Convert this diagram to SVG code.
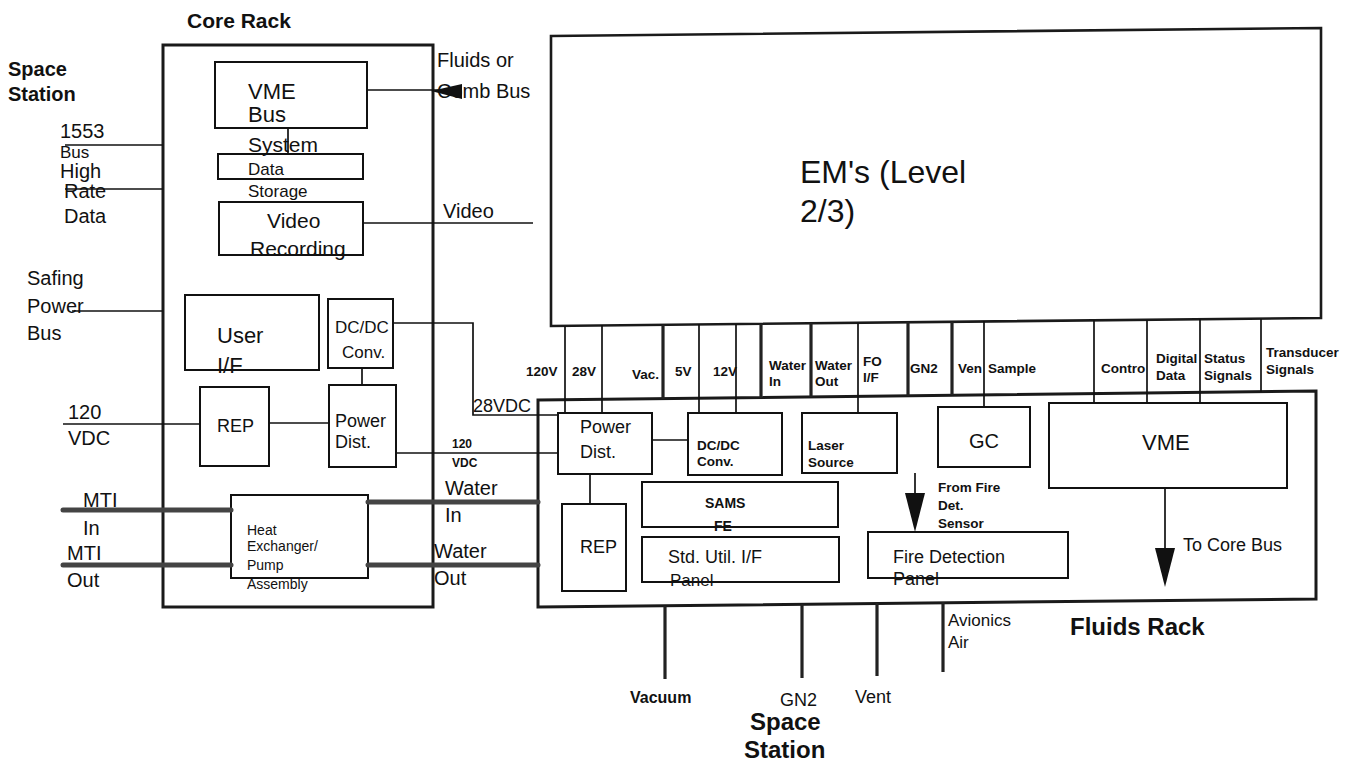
<svg xmlns="http://www.w3.org/2000/svg" width="1349" height="767" viewBox="0 0 1349 767">
<style>
text{font-family:"Liberation Sans",Arial,Helvetica,sans-serif;fill:#111}
.b{font-weight:bold}
.box{fill:none;stroke:#111;stroke-width:2}
.rack{fill:none;stroke:#1a1a1a;stroke-width:3}
.ln{fill:none;stroke:#111;stroke-width:1.7}
.thk{fill:none;stroke:#222;stroke-width:3.2}
.pipe{fill:none;stroke:#444;stroke-width:5;stroke-linecap:round}
.ah{fill:#111;stroke:none}
.f13{font-size:13.5px}.f14{font-size:14px}.f17{font-size:17px}.f18{font-size:18px}.f20{font-size:20px}.f21{font-size:21px}.f22{font-size:22px}
</style>
<rect x="0" y="0" width="1349" height="767" fill="#fff"/>

<g id="labels-outer">
<text class="b f21" x="187" y="28">Core Rack</text>
<text class="b f20" x="8" y="76">Space</text>
<text class="b f20" x="8" y="101">Station</text>
<text class="f20" x="60" y="138">1553</text>
<text class="f17" x="60" y="158">Bus</text>
<text class="f20" x="60" y="178">High</text>
<text class="f20" x="64" y="198">Rate</text>
<text class="f20" x="64" y="223">Data</text>
<text class="f20" x="27" y="285">Safing</text>
<text class="f20" x="27" y="313">Power</text>
<text class="f20" x="27" y="340">Bus</text>
<text class="f20" x="68" y="419">120</text>
<text class="f20" x="68" y="445">VDC</text>
<text class="f20" x="83" y="507">MTI</text>
<text class="f20" x="83" y="535">In</text>
<text class="f20" x="67" y="560">MTI</text>
<text class="f20" x="67" y="587">Out</text>
<text class="f20" x="437" y="67">Fluids or</text>
<text class="f20" x="437" y="98">Comb Bus</text>
<text class="f20" x="443" y="218">Video</text>
<text class="f18" x="473" y="412">28VDC</text>
<text class="b" font-size="12" x="452" y="448">120</text>
<text class="b" font-size="12" x="452" y="467">VDC</text>
<text class="f20" x="445" y="495">Water</text>
<text class="f20" x="445" y="522">In</text>
<text class="f20" x="434" y="558">Water</text>
<text class="f20" x="434" y="585">Out</text>
<text class="b f13" x="526" y="376">120V</text>
<text class="b f13" x="572" y="376">28V</text>
<text class="b f13" x="632" y="379">Vac.</text>
<text class="b f13" x="675" y="376">5V</text>
<text class="b f13" x="713" y="376">12V</text>
<text class="b f13" x="769" y="370">Water</text>
<text class="b f13" x="769" y="386">In</text>
<text class="b f13" x="815" y="370">Water</text>
<text class="b f13" x="815" y="386">Out</text>
<text class="b f13" x="863" y="366">FO</text>
<text class="b f13" x="863" y="382">I/F</text>
<text class="b f13" x="910" y="373">GN2</text>
<text class="b f13" x="958" y="373">Ven</text>
<text class="b f13" x="988" y="373">Sample</text>
<text class="b f13" x="1101" y="373">Contro</text>
<text class="b f13" x="1156" y="363">Digital</text>
<text class="b f13" x="1156" y="380">Data</text>
<text class="b f13" x="1204" y="363">Status</text>
<text class="b f13" x="1204" y="380">Signals</text>
<text class="b f13" x="1266" y="357">Transducer</text>
<text class="b f13" x="1266" y="374">Signals</text>
<text class="b f13" x="938" y="492">From Fire</text>
<text class="b f13" x="938" y="510">Det.</text>
<text class="b f13" x="938" y="528">Sensor</text>
<text class="f18" x="1183" y="551">To Core Bus</text>
<text class="f17" x="948" y="626">Avionics</text>
<text class="f17" x="948" y="648">Air</text>
<text class="b" font-size="24" x="1070" y="635">Fluids Rack</text>
<text class="b" font-size="16" x="630" y="703">Vacuum</text>
<text class="f18" x="780" y="706">GN2</text>
<text class="f18" x="855" y="703">Vent</text>
<text class="b" font-size="24" x="750" y="730">Space</text>
<text class="b" font-size="24" x="744" y="758">Station</text>
</g>

<g id="core-rack"><rect class="rack" x="163" y="45" width="270" height="562"/></g>
<g id="fluids-rack"><polygon class="rack" points="538,400 1316,391 1316,599 538,607"/></g>
<g id="ems"><polygon class="rack" style="stroke-width:2.6" points="551,36 1321,28 1321,318 551,326"/>
<text font-size="32" x="800" y="183">EM's (Level</text>
<text font-size="32" x="800" y="222">2/3)</text></g>

<g id="vme-bus"><rect class="box" x="215" y="62" width="152" height="66"/>
<text class="f22" x="248" y="99">VME</text><text class="f22" x="248" y="122">Bus</text></g>
<g id="system-data-storage"><rect class="box" x="218" y="154" width="145" height="25"/>
<text class="f21" x="248" y="152">System</text>
<text class="f17" x="248" y="175">Data</text><text class="f17" x="248" y="197">Storage</text></g>
<g id="video-recording"><rect class="box" x="219" y="202" width="144" height="53"/>
<text class="f21" x="267" y="228">Video</text><text class="f21" x="250" y="256">Recording</text></g>
<g id="user-if"><rect class="box" x="185" y="295" width="134" height="75"/>
<text class="f22" x="217" y="343">User</text><text class="f22" x="217" y="373">I/F</text></g>
<g id="core-dcdc"><rect class="box" x="328" y="299" width="65" height="69"/>
<text class="f17" x="335" y="333">DC/DC</text><text class="f17" x="342" y="358">Conv.</text></g>
<g id="core-power-dist"><rect class="box" x="329" y="385" width="67" height="82"/>
<text class="f18" x="335" y="427">Power</text><text class="f18" x="335" y="448">Dist.</text></g>
<g id="core-rep"><rect class="box" x="200" y="387" width="69" height="79"/>
<text class="f18" x="217" y="432">REP</text></g>
<g id="heat-exchanger"><rect class="box" x="231" y="495" width="137" height="83"/>
<text class="f14" x="247" y="535">Heat</text><text class="f14" x="247" y="551">Exchanger/</text>
<text class="f14" x="247" y="570">Pump</text><text class="f14" x="247" y="589">Assembly</text></g>

<g id="fluids-power-dist"><rect class="box" x="558" y="413" width="94" height="61"/>
<text class="f18" x="580" y="433">Power</text><text class="f18" x="580" y="458">Dist.</text></g>
<g id="fluids-dcdc"><rect class="box" x="688" y="413" width="94" height="62"/>
<text class="b f13" x="697" y="450">DC/DC</text><text class="b f13" x="697" y="466">Conv.</text></g>
<g id="laser-source"><rect class="box" x="802" y="413" width="95" height="60"/>
<text class="b f13" x="808" y="450">Laser</text><text class="b f13" x="808" y="467">Source</text></g>
<g id="gc"><rect class="box" x="938" y="407" width="92" height="60"/>
<text class="f20" x="969" y="448">GC</text></g>
<g id="fluids-vme"><rect class="box" x="1049" y="403" width="238" height="85"/>
<text class="f22" x="1142" y="450">VME</text></g>
<g id="fluids-rep"><rect class="box" x="562" y="504" width="64" height="87"/>
<text class="f18" x="580" y="553">REP</text></g>
<g id="sams-fe"><rect class="box" x="642" y="482" width="196" height="45"/>
<text class="b f14" x="705" y="508">SAMS</text><text class="b f14" x="714" y="531">FE</text></g>
<g id="std-util"><rect class="box" x="642" y="537" width="197" height="45"/>
<text class="f18" x="668" y="563">Std. Util. I/F</text><text class="f17" x="670" y="586">Panel</text></g>
<g id="fire-detection"><rect class="box" x="868" y="532" width="200" height="46"/>
<text class="f18" x="893" y="563">Fire Detection</text><text class="f18" x="893" y="585">Panel</text></g>

<g id="connectors">
<line class="ln" x1="65" y1="145" x2="163" y2="145"/>
<line class="ln" x1="65" y1="189" x2="163" y2="189"/>
<line class="ln" x1="72" y1="311" x2="163" y2="311"/>
<line class="ln" x1="63" y1="424" x2="200" y2="424"/>
<line class="ln" x1="269" y1="423" x2="329" y2="423"/>
<line class="ln" x1="362" y1="368" x2="362" y2="385"/>
<line class="ln" x1="288" y1="128" x2="288" y2="154"/>
<line class="ln" x1="367" y1="90" x2="462" y2="90"/>
<polygon class="ah" points="431,91 462,84 462,99"/>
<line class="ln" x1="363" y1="223" x2="533" y2="223"/>
<polyline class="ln" points="393,323 473,323 473,415 558,415"/>
<line class="ln" x1="396" y1="453" x2="558" y2="453"/>
<line class="pipe" x1="63" y1="510" x2="231" y2="510"/>
<line class="pipe" x1="63" y1="565" x2="231" y2="565"/>
<line class="pipe" x1="368" y1="502" x2="538" y2="502"/>
<line class="pipe" x1="368" y1="565" x2="538" y2="565"/>
<line class="ln" x1="565" y1="326" x2="565" y2="413"/>
<line class="ln" x1="602" y1="325" x2="602" y2="413"/>
<line class="thk" x1="663" y1="325" x2="663" y2="399"/>
<line class="ln" x1="699" y1="324" x2="699" y2="413"/>
<line class="ln" x1="736" y1="324" x2="736" y2="413"/>
<line class="thk" x1="761" y1="324" x2="761" y2="398"/>
<line class="thk" x1="811" y1="323" x2="811" y2="397"/>
<line class="ln" x1="858" y1="323" x2="858" y2="413"/>
<line class="thk" x1="908" y1="322" x2="908" y2="396"/>
<line class="thk" x1="952" y1="322" x2="952" y2="395"/>
<line class="ln" x1="984" y1="321" x2="984" y2="407"/>
<line class="ln" x1="1094" y1="320" x2="1094" y2="403"/>
<line class="ln" x1="1147" y1="320" x2="1147" y2="403"/>
<line class="ln" x1="1200" y1="319" x2="1200" y2="403"/>
<line class="ln" x1="1261" y1="319" x2="1261" y2="392"/>
<line class="ln" x1="652" y1="440" x2="688" y2="440"/>
<line class="ln" x1="590" y1="474" x2="590" y2="504"/>
<line class="ln" x1="915" y1="473" x2="915" y2="500"/>
<polygon class="ah" points="915,532 905,493 925,493"/>
<line class="ln" x1="1165" y1="488" x2="1165" y2="555"/>
<polygon class="ah" points="1165,587 1155,548 1175,548"/>
<line class="thk" x1="665" y1="606" x2="665" y2="679"/>
<line class="thk" x1="802" y1="604" x2="802" y2="678"/>
<line class="thk" x1="877" y1="603" x2="877" y2="676"/>
<line class="thk" x1="943" y1="602" x2="943" y2="672"/>
</g>
</svg>
